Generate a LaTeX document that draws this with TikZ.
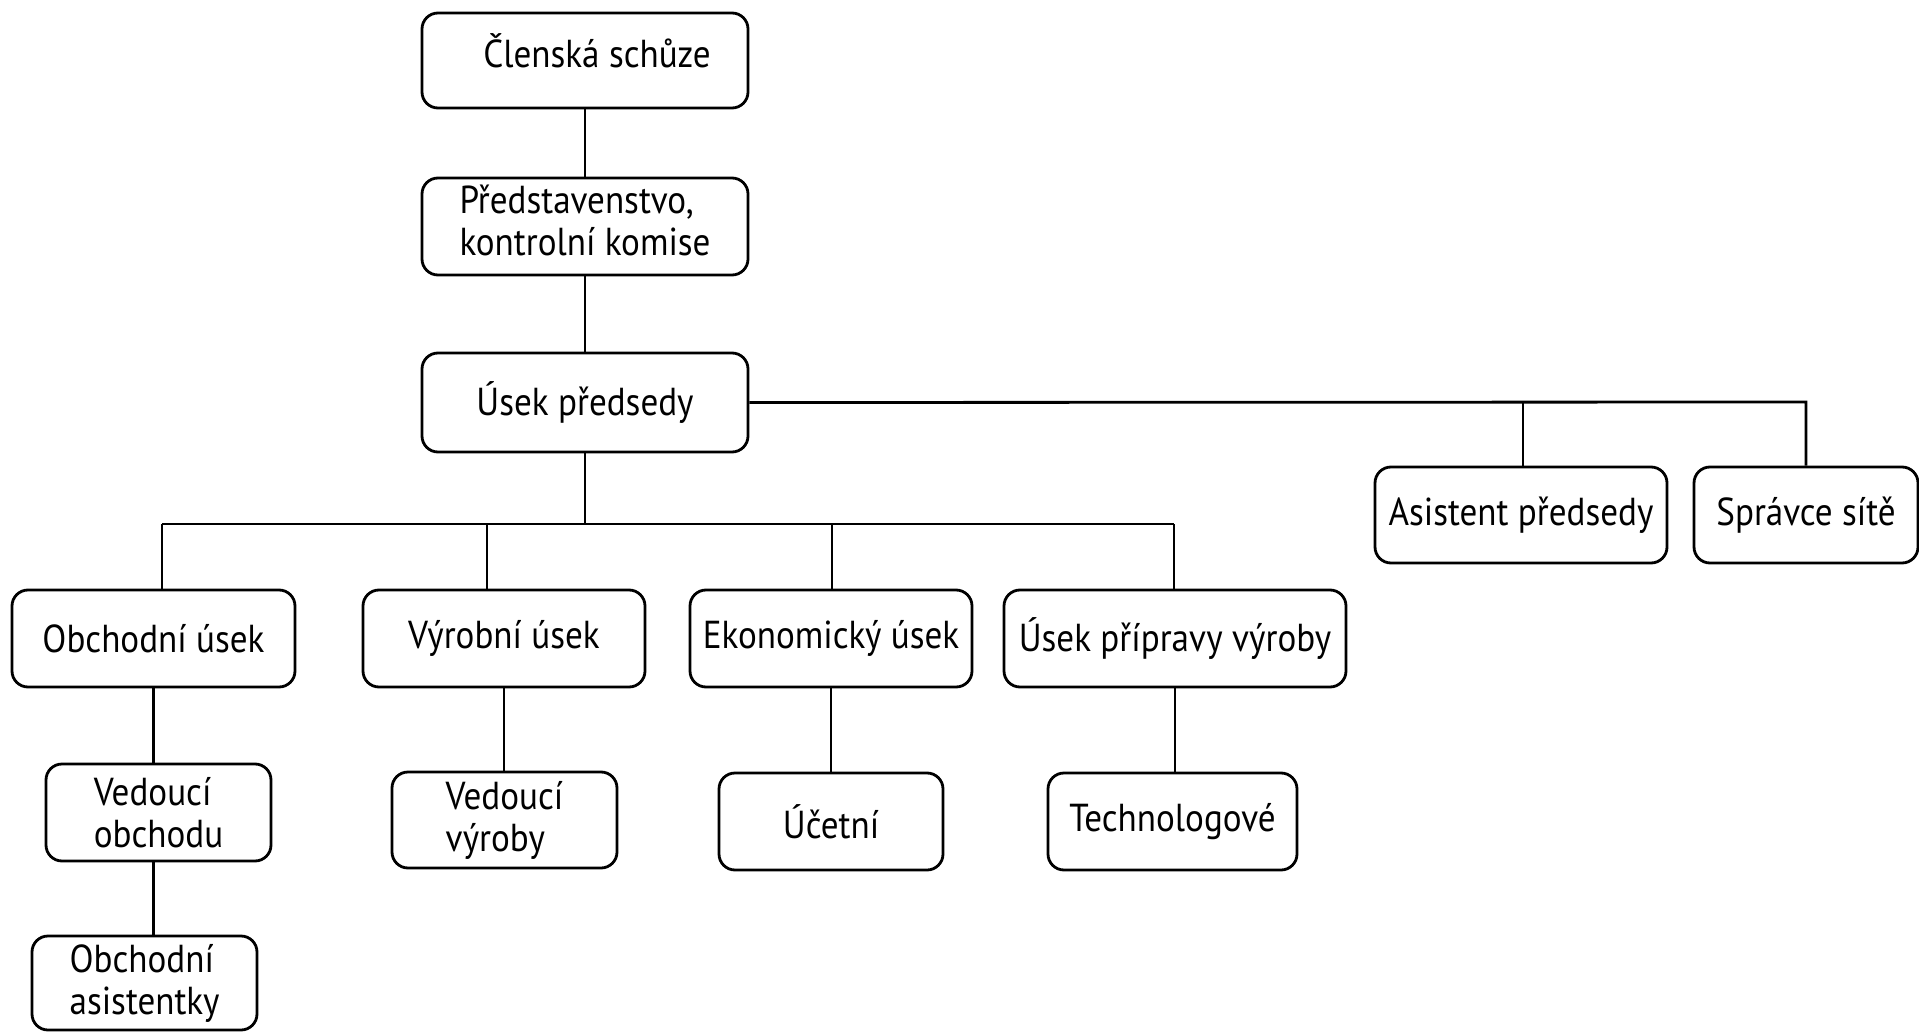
\documentclass[tikz,border=0pt]{standalone}
\usepackage{fontspec}
\setmainfont{PT Sans}[FakeStretch=0.9]
\begin{document}
\begin{tikzpicture}[x=1pt,y=-1pt,
  orgbox/.style={draw, rounded corners=16pt, line width=2.8pt, inner sep=0pt,
    font=\fontsize{39}{42}\selectfont, text=black},
  link/.style={line width=2.8pt}]
\useasboundingbox (0,0) rectangle (1919,1032);

% top chain
\node[orgbox, minimum width=326, minimum height=95] (clen) at (585,60.5) {\raisebox{-7.5pt}[0pt][0pt]{\hspace*{24pt}Členská schůze}};
\node[orgbox, minimum width=326, minimum height=97, align=left] (pred) at (585,226.5) {\raisebox{2pt}{\begin{tabular}{@{}l@{}}Představenstvo,\\kontrolní komise\end{tabular}}};
\node[orgbox, minimum width=326, minimum height=99] (usek) at (585,402.5) {Úsek předsedy};

% staff positions
\node[orgbox, minimum width=292, minimum height=96] (asist) at (1521,515) {Asistent předsedy};
\node[orgbox, minimum width=224, minimum height=96] (spravce) at (1806,515) {Správce sítě};

% departments
\node[orgbox, minimum width=283, minimum height=97] (obch) at (153.5,638.5) {Obchodní úsek};
\node[orgbox, minimum width=282, minimum height=97] (vyr) at (504,638.5) {Výrobní úsek};
\node[orgbox, minimum width=282, minimum height=97] (eko) at (831,638.5) {Ekonomický úsek};
\node[orgbox, minimum width=342, minimum height=97] (prip) at (1175,638.5) {Úsek přípravy výroby};

% subordinate units
\node[orgbox, minimum width=225, minimum height=97, align=left] (vedobch) at (158.5,812.5) {Vedoucí\\obchodu};
\node[orgbox, minimum width=225, minimum height=94, align=left] (obchas) at (144.5,983) {Obchodní\\asistentky};
\node[orgbox, minimum width=225, minimum height=96, align=left] (vedvyr) at (504.5,820) {Vedoucí\\výroby};
\node[orgbox, minimum width=224, minimum height=97] (ucet) at (831,821.5) {Účetní};
\node[orgbox, minimum width=249, minimum height=97] (tech) at (1172.5,821.5) {Technologové};

% junction points
\coordinate (bL) at (162,524);
\coordinate (bV) at (487,524);
\coordinate (bE) at (832,524);
\coordinate (bR) at (1174,524);
\coordinate (sA) at (1523,402);
\coordinate (sS) at (1806,402);

% connectors
\draw[link] (clen.south) -- (pred.north);
\draw[link] (pred.south) -- (usek.north);
\draw[link] (usek.east) -- (sS) -- (spravce.north);
\draw[link] (sA) -- (sA |- asist.north);
\draw[link] (usek.south) -- (usek.south |- bL);
\draw[link] (bL) -- (bR);
\draw[link] (bL) -- (bL |- obch.north);
\draw[link] (bV) -- (bV |- vyr.north);
\draw[link] (bE) -- (bE |- eko.north);
\draw[link] (bR) -- (bR |- prip.north);
\draw[link] (obch.south) -- (obch.south |- vedobch.north);
\draw[link] (obch.south |- vedobch.south) -- (obch.south |- obchas.north);
\draw[link] (vyr.south) -- (vyr.south |- vedvyr.north);
\draw[link] (eko.south) -- (eko.south |- ucet.north);
\draw[link] (prip.south) -- (prip.south |- tech.north);
\end{tikzpicture}
\end{document}
